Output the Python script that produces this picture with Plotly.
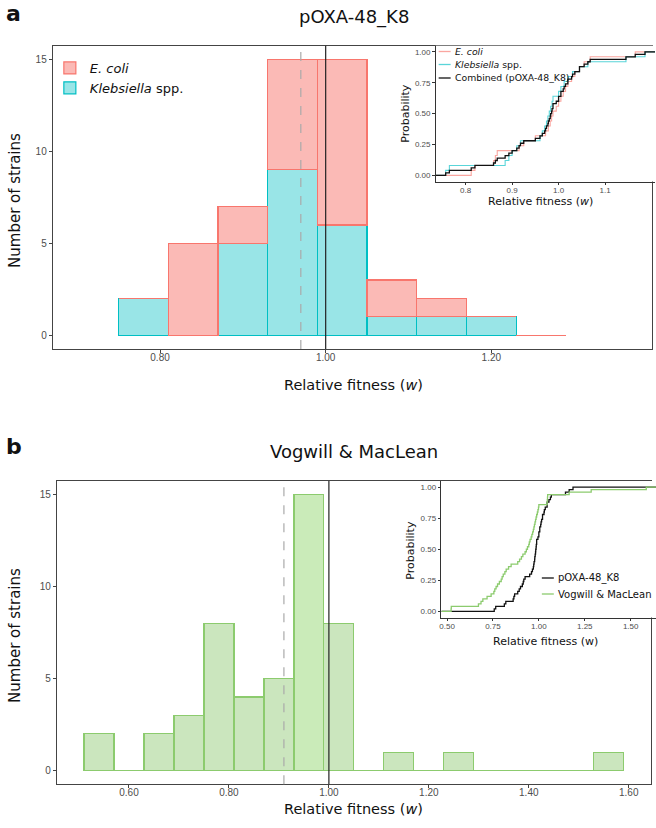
"""
Relative fitness histograms with ECDF insets (Plotly)
"""

import numpy as np
import plotly.graph_objects as go

W, H = 656, 828

# panel a: stacked histogram, binwidth 0.06 (left edges)
bins_a = [0.75, 0.81, 0.87, 0.93, 0.99, 1.05, 1.11, 1.17, 1.23]
kleb_counts = [2, 0, 5, 9, 6, 1, 1, 1, 0]
ecoli_counts = [0, 5, 2, 6, 9, 2, 1, 0, 0]

# panel b: histogram, binwidth 0.06 (left edges)
bins_b = [0.51, 0.57, 0.63, 0.69, 0.75, 0.81, 0.87, 0.93, 0.99,
          1.05, 1.11, 1.17, 1.23, 1.29, 1.35, 1.41, 1.47, 1.53]
vogwill_counts = [2, 0, 2, 3, 8, 4, 5, 15, 8, 0, 1, 0, 1, 0, 0, 0, 0, 1]
bin_width = 0.06

# relative fitness of single strains (ECDF insets)
ecoli_w = [0.812, 0.820, 0.860, 0.864, 0.868, 0.915, 0.925, 0.950, 0.972,
           0.978, 0.982, 0.985, 0.988, 0.995, 1.000, 1.005, 1.010, 1.015,
           1.020, 1.028, 1.035, 1.045, 1.055, 1.068, 1.165]
kleb_w = [0.757, 0.765, 0.885, 0.893, 0.900, 0.910, 0.918, 0.960, 0.965,
          0.970, 0.974, 0.977, 0.980, 0.983, 0.986, 0.988, 1.005, 1.012,
          1.020, 1.030, 1.045, 1.063, 1.145, 1.186, 1.000]
vogwill_w = [0.522, 0.523, 0.671, 0.685, 0.695, 0.718, 0.740, 0.755, 0.760,
             0.767, 0.775, 0.785, 0.795, 0.800, 0.806, 0.815, 0.822, 0.835,
             0.849, 0.885, 0.895, 0.905, 0.913, 0.925, 0.932, 0.938, 0.945,
             0.948, 0.952, 0.958, 0.962, 0.966, 0.970, 0.973, 0.976, 0.979,
             0.982, 0.985, 0.988, 0.992, 0.995, 0.998, 1.000, 1.045, 1.046,
             1.047, 1.048, 1.165, 1.285, 1.585]
combined_w = ecoli_w + kleb_w

# mean fitness (dashed lines)
mean_poxa = 0.970
mean_vogwill = 0.910

PINK = "#F8766D"
CYAN = "#00BFC4"
GREEN = "#8CCB6E"
TICK_FONT = dict(family="Liberation Sans, Arial", size=10, color="#4d4d4d")
SMALL_TICK = dict(family="Liberation Sans, Arial", size=8, color="#4d4d4d")
TITLE_FAM = "DejaVu Sans"


def px(x):
    return x / W


def py(y):
    return 1 - y / H


def ecdf(vals, lo, hi):
    xs = np.sort(np.array(vals))
    ys = np.arange(1, len(xs) + 1) / len(xs)
    return np.r_[lo, xs, hi], np.r_[0.0, ys, 1.0]


fig = go.Figure()

# --- panel a histogram
fig.add_trace(go.Bar(x=bins_a, y=kleb_counts, width=bin_width, offset=0,
                     name="<i>Klebsiella</i> spp.", legendrank=2,
                     marker=dict(color="rgba(0,191,196,0.4)",
                                 line=dict(color=CYAN, width=1.2)),
                     xaxis="x", yaxis="y"))
fig.add_trace(go.Bar(x=bins_a, y=ecoli_counts, width=bin_width, offset=0,
                     name="<i>E. coli</i>", legendrank=1,
                     marker=dict(color="rgba(248,118,109,0.5)",
                                 line=dict(color=PINK, width=1.2)),
                     xaxis="x", yaxis="y"))

# --- panel a inset ECDF
ins_a = [0.7355, 1.2075]
for vals, col, wd in [(ecoli_w, "rgba(248,118,109,0.65)", 1.1),
                      (kleb_w, "rgba(0,191,196,0.65)", 1.1),
                      (combined_w, "#111111", 1.3)]:
    xs, ys = ecdf(vals, *ins_a)
    fig.add_trace(go.Scatter(x=xs, y=ys, mode="lines", line_shape="hv",
                             line=dict(color=col, width=wd), showlegend=False,
                             xaxis="x2", yaxis="y2"))

# --- panel b histogram (tallest bin a touch brighter, as in the original)
bar_cols = ["rgba(150,215,115,0.5)" if c == max(vogwill_counts)
            else "rgba(140,200,110,0.45)" for c in vogwill_counts]
fig.add_trace(go.Bar(x=bins_b, y=vogwill_counts, width=bin_width, offset=0,
                     marker=dict(color=bar_cols,
                                 line=dict(color=GREEN, width=1.2)),
                     showlegend=False, xaxis="x3", yaxis="y3"))

# --- panel b inset ECDF
ins_b = [0.469, 1.638]
for vals, col in [(combined_w, "#111111"), (vogwill_w, GREEN)]:
    xs, ys = ecdf(vals, *ins_b)
    fig.add_trace(go.Scatter(x=xs, y=ys, mode="lines", line_shape="hv",
                             line=dict(color=col, width=1.3), showlegend=False,
                             xaxis="x4", yaxis="y4"))

main_ax = dict(showline=True, linecolor="#444444", linewidth=1.2, mirror=True,
               ticks="outside", ticklen=3, tickcolor="#444444",
               showgrid=False, zeroline=False, tickfont=TICK_FONT)
inset_ax = dict(showline=True, linecolor="#333333", linewidth=1.2,
                ticks="outside", ticklen=2.5, tickcolor="#333333",
                showgrid=False, zeroline=False, tickfont=SMALL_TICK)

fig.update_layout(
    width=W, height=H, margin=dict(l=0, r=0, t=0, b=0),
    paper_bgcolor="white", plot_bgcolor="white", barmode="stack",
    xaxis=dict(main_ax, domain=[px(51), px(652)], range=[0.6706, 1.394],
               tickvals=[0.8, 1.0, 1.2], tickformat=".2f", anchor="y",
               ticklabelstandoff=-4),
    yaxis=dict(main_ax, domain=[py(349), py(45.7)], range=[-0.75, 15.75],
               tickvals=[0, 5, 10, 15], anchor="x"),
    xaxis2=dict(inset_ax, domain=[px(435), px(655)], range=ins_a,
                tickvals=[0.8, 0.9, 1.0, 1.1], tickformat=".1f", anchor="y2",
                ticklabelstandoff=-2),
    yaxis2=dict(inset_ax, domain=[py(181.5), py(45.7)], range=[-0.05, 1.05],
                tickvals=[0, 0.25, 0.5, 0.75, 1], tickformat=".2f", anchor="x2"),
    xaxis3=dict(main_ax, domain=[px(55.2), px(650.7)], range=[0.456, 1.644],
                tickvals=[0.6, 0.8, 1.0, 1.2, 1.4, 1.6], tickformat=".2f",
                anchor="y3", ticklabelstandoff=-4),
    yaxis3=dict(main_ax, domain=[py(784.3), py(481)], range=[-0.75, 15.75],
                tickvals=[0, 5, 10, 15], anchor="x3"),
    xaxis4=dict(inset_ax, domain=[px(440.7), px(656)], range=ins_b,
                tickvals=[0.5, 0.75, 1.0, 1.25, 1.5], tickformat=".2f",
                anchor="y4", ticklabelstandoff=-2),
    yaxis4=dict(inset_ax, domain=[py(617.5), py(481)], range=[-0.05, 1.05],
                tickvals=[0, 0.25, 0.5, 0.75, 1], tickformat=".2f", anchor="x4"),
    legend=dict(x=px(48), y=py(53), xanchor="left", yanchor="top",
                traceorder="normal", bgcolor="rgba(0,0,0,0)",
                font=dict(family=TITLE_FAM, size=13, color="#111111")),
)

# mean and w = 1 reference lines
for xr, yr, m in [("x", "y domain", mean_poxa), ("x3", "y3 domain", mean_vogwill)]:
    fig.add_shape(type="line", xref=xr, yref=yr, x0=m, x1=m, y0=0, y1=1,
                  line=dict(color="#aaaaaa", width=1.2, dash="dash"))
    fig.add_shape(type="line", xref=xr, yref=yr, x0=1, x1=1, y0=0, y1=1,
                  line=dict(color="#222222", width=1.2))

# titles and axis labels
ann = [
    dict(text="<b>a</b>", x=px(2), y=py(14), size=22, xanchor="left"),
    dict(text="<b>b</b>", x=px(2), y=py(447), size=22, xanchor="left"),
    dict(text="pOXA-48_K8", x=px(353), y=py(17), size=18),
    dict(text="Vogwill & MacLean", x=px(353), y=py(451), size=18),
    dict(text="Number of strains", x=px(13), y=py(200), size=15, angle=-90),
    dict(text="Number of strains", x=px(13), y=py(635), size=15, angle=-90),
    dict(text="Relative fitness (<i>w</i>)", x=px(353), y=py(385), size=14.5),
    dict(text="Relative fitness (<i>w</i>)", x=px(353), y=py(809), size=14.5),
    dict(text="Probability", x=px(405), y=py(113), size=11, angle=-90),
    dict(text="Relative fitness (<i>w</i>)", x=px(540), y=py(202), size=11),
    dict(text="Probability", x=px(409), y=py(550), size=11, angle=-90),
    dict(text="Relative fitness (w)", x=px(545), y=py(641), size=11),
]
for a in ann:
    fig.add_annotation(text=a["text"], x=a["x"], y=a["y"], xref="paper",
                       yref="paper", showarrow=False,
                       xanchor=a.get("xanchor", "center"), yanchor="middle",
                       textangle=a.get("angle", 0),
                       font=dict(family=TITLE_FAM, size=a["size"], color="#111111"))

# inset legends (short line keys)
inset_keys = [
    ("<i>E. coli</i>", "rgba(248,118,109,0.65)", 438, 51.5, 9.3),
    ("<i>Klebsiella</i> spp.", "rgba(0,191,196,0.65)", 438, 64.5, 9.3),
    ("Combined (pOXA-48_K8)", "#111111", 438, 78, 9.3),
    ("pOXA-48_K8", "#111111", 541.5, 578, 10),
    ("Vogwill & MacLean", GREEN, 541.5, 594, 10),
]
for label, col, x0, y0, fs in inset_keys:
    fig.add_shape(type="line", xref="paper", yref="paper", x0=px(x0),
                  x1=px(x0 + 12), y0=py(y0), y1=py(y0),
                  line=dict(color=col, width=1.3))
    fig.add_annotation(text=label, x=px(x0 + 14), y=py(y0), xref="paper",
                       yref="paper", showarrow=False, xanchor="left",
                       yanchor="middle",
                       font=dict(family=TITLE_FAM, size=fs, color="#111111"))

# no modebar; drop the default page margin so the figure sits at the corner
fig.write_html("out.html", config={"displayModeBar": False},
               post_script="document.body.style.margin='0px';")
